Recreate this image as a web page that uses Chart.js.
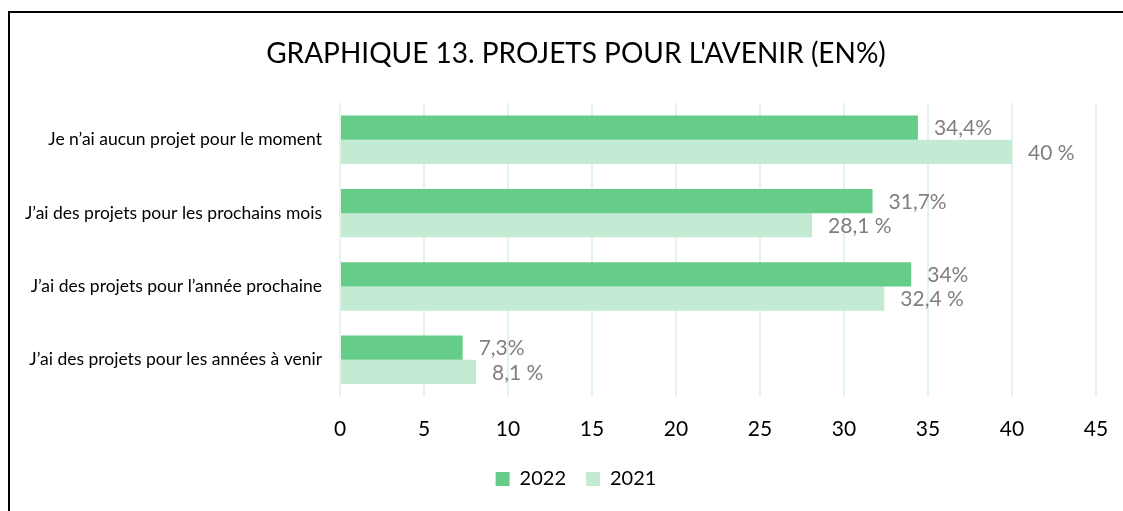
<!DOCTYPE html>
<html lang="fr">
<head>
<meta charset="UTF-8" />
<title>Graphique 13 – Projets pour l'avenir</title>
<script src="https://cdn.jsdelivr.net/npm/chart.js"></script>
<style>
  html, body { margin:0; padding:0; background:#fff; }
  .wrap { position:relative; width:1123px; height:511px; overflow:hidden; }
  .frame { position:absolute; left:8px; top:11px; width:1200px; height:600px; border-left:2px solid #000; border-top:2px solid #000; pointer-events:none; }
  canvas { position:absolute; left:0; top:0; }
</style>
</head>
<body>
<div class="wrap">
  <canvas id="chart" width="1160" height="511"></canvas>
  <div class="frame"></div>
</div>
<script>
  // data
  const categories = [
    "Je n\u2019ai aucun projet pour le moment",
    "J\u2019ai des projets pour les prochains mois",
    "J\u2019ai des projets pour l\u2019ann\u00e9e prochaine",
    "J\u2019ai des projets pour les ann\u00e9es \u00e0 venir"
  ];
  const values2022 = [34.4, 31.7, 34, 7.3];
  const values2021 = [40, 28.1, 32.4, 8.1];
  const labels2022 = ["34,4%", "31,7%", "34%", "7,3%"];
  const labels2021 = ["40 %", "28,1 %", "32,4 %", "8,1 %"];
  const xTicks = [0, 5, 10, 15, 20, 25, 30, 35, 40, 45];

  const FONT = "Lato, 'Open Sans', sans-serif";

  // value labels after each bar
  const valueLabels = {
    id: 'valueLabels',
    afterDatasetsDraw(chart) {
      const ctx = chart.ctx;
      const texts = [labels2022, labels2021];
      ctx.save();
      ctx.font = "21px " + FONT;
      ctx.fillStyle = "#808080";
      ctx.textAlign = "left";
      ctx.textBaseline = "middle";
      chart.data.datasets.forEach((ds, i) => {
        chart.getDatasetMeta(i).data.forEach((bar, j) => {
          ctx.fillText(texts[i][j], bar.x + 16, bar.y + 1);
        });
      });
      ctx.restore();
    }
  };

  new Chart(document.getElementById('chart'), {
    type: 'bar',
    data: {
      labels: categories,
      datasets: [
        { label: '2022', data: values2022, backgroundColor: '#66CC8A', categoryPercentage: 0.66, barPercentage: 1 },
        { label: '2021', data: values2021, backgroundColor: '#C3EBD3', categoryPercentage: 0.66, barPercentage: 1 }
      ]
    },
    options: {
      indexAxis: 'y',
      responsive: false,
      animation: false,
      layout: { padding: { left: 0, right: 8, top: 0, bottom: 12 } },
      plugins: {
        title: {
          display: true,
          text: "GRAPHIQUE 13. PROJETS POUR L'AVENIR (EN%)",
          color: '#000',
          font: { family: FONT, size: 28, weight: 'normal' },
          padding: { top: 37, bottom: 32.5 }
        },
        legend: {
          position: 'bottom',
          labels: {
            color: '#000',
            font: { family: FONT, size: 20 },
            boxWidth: 14, boxHeight: 14, padding: 20
          }
        },
        tooltip: { enabled: false }
      },
      scales: {
        x: {
          min: 0, max: 45,
          afterBuildTicks: s => { s.ticks = xTicks.map(v => ({ value: v })); },
          afterFit: s => { s.height = 52.5; s.paddingRight = 64; },
          grid: { color: '#E3F4E9', lineWidth: 2, drawTicks: false },
          border: { display: false },
          ticks: { color: '#000', font: { family: FONT, size: 21 }, padding: 20 }
        },
        y: {
          afterFit: s => { s.width = 340; },
          grid: { display: false },
          border: { display: false },
          ticks: { color: '#000', font: { family: FONT, size: 17.5 }, padding: 10 }
        }
      }
    },
    plugins: [valueLabels]
  });
</script>
</body>
</html>
